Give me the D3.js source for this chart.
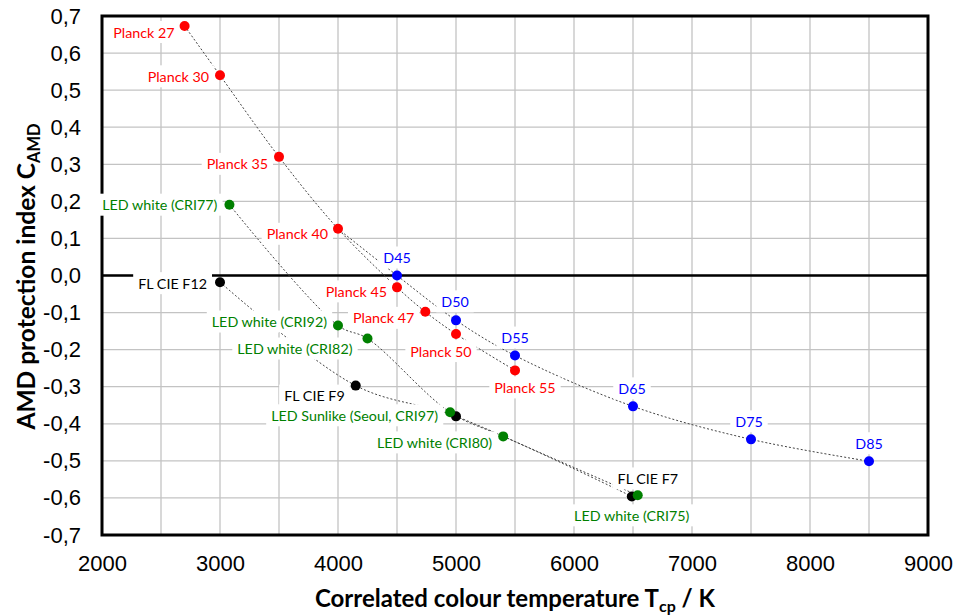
<!DOCTYPE html>
<html>
<head>
<meta charset="utf-8">
<script src="https://cdn.jsdelivr.net/npm/d3@7"></script>
<style>
  body { margin: 0; background: #fff; }
  svg { display: block; }
</style>
</head>
<body>
<svg id="chart" width="956" height="616"></svg>
<script>
// values: [name, Tcp in K, C_AMD]
const planck = [
  ["Planck 27", 2700, 0.673],
  ["Planck 30", 3000, 0.540],
  ["Planck 35", 3500, 0.320],
  ["Planck 40", 4000, 0.126],
  ["Planck 45", 4500, -0.032],
  ["Planck 47", 4740, -0.098],
  ["Planck 50", 5000, -0.158],
  ["Planck 55", 5500, -0.256]
];
const daylight = [
  ["D45", 4500, 0.000],
  ["D50", 5000, -0.121],
  ["D55", 5500, -0.216],
  ["D65", 6500, -0.353],
  ["D75", 7500, -0.442],
  ["D85", 8500, -0.501]
];
const fluorescent = [
  ["FL CIE F12", 3000, -0.018],
  ["FL CIE F9", 4150, -0.297],
  ["", 5000, -0.380],
  ["FL CIE F7", 6490, -0.596]
];
const led = [
  ["LED white (CRI77)", 3080, 0.191],
  ["LED white (CRI92)", 4000, -0.135],
  ["LED white (CRI82)", 4250, -0.170],
  ["LED Sunlike (Seoul, CRI97)", 4950, -0.369],
  ["LED white (CRI80)", 5400, -0.434],
  ["LED white (CRI75)", 6540, -0.593]
];

const xDomain = [2000, 9000];
const yDomain = [-0.7, 0.7];

// where each label sits relative to its dot: [anchor, dx, dy]
const labelPos = {
  "Planck 27": ["end", -10, 6], "Planck 30": ["end", -11, 1], "Planck 35": ["end", -11, 7],
  "Planck 40": ["end", -10, 5], "Planck 45": ["end", -10, 4], "Planck 47": ["end", -11, 6],
  "Planck 50": ["middle", -15, 17], "Planck 55": ["middle", 10, 17],
  "D45": ["middle", 0, -18], "D50": ["middle", -1, -19], "D55": ["middle", 0, -18],
  "D65": ["middle", -1, -18], "D75": ["middle", -2, -18], "D85": ["middle", 0, -18],
  "LED white (CRI77)": ["end", -12, 0], "LED white (CRI92)": ["end", -11, -4],
  "LED white (CRI82)": ["end", -15, 10], "LED Sunlike (Seoul, CRI97)": ["end", -12, 3],
  "LED white (CRI80)": ["end", -11, 6], "LED white (CRI75)": ["middle", -6, 20],
  "FL CIE F12": ["end", -13, 1], "FL CIE F9": ["end", -11, 10], "FL CIE F7": ["middle", 16, -18]
};

const W = 956, H = 616;
const margin = {top: 16, right: 28, bottom: 81, left: 102};
const iw = W - margin.left - margin.right;
const ih = H - margin.top - margin.bottom;

const svg = d3.select("#chart");
const g = svg.append("g").attr("transform", `translate(${margin.left},${margin.top})`);

const x = d3.scaleLinear().domain(xDomain).range([0, iw]);
const y = d3.scaleLinear().domain(yDomain).range([ih, 0]);

const loc = d3.formatLocale({decimal: ",", thousands: "", grouping: [3], currency: ["", ""], minus: "-"});
const fmtY = loc.format(".1f");

// grid
g.append("g").selectAll("line").data(x.ticks(14)).join("line")
  .attr("x1", d => x(d)).attr("x2", d => x(d)).attr("y1", 0).attr("y2", ih)
  .style("stroke", "#c3c3c3").style("stroke-width", 1.3);
g.append("g").selectAll("line").data(y.ticks(14)).join("line")
  .attr("x1", 0).attr("x2", iw).attr("y1", d => y(d)).attr("y2", d => y(d))
  .style("stroke", "#c3c3c3").style("stroke-width", 1.3);

// zero line
g.append("line").attr("x1", 0).attr("x2", iw).attr("y1", y(0)).attr("y2", y(0))
  .style("stroke", "#000").style("stroke-width", 2.5);

// axes
const xAxis = g.append("g").attr("transform", `translate(0,${ih})`)
  .call(d3.axisBottom(x).ticks(7).tickFormat(d3.format("d")).tickSize(0).tickPadding(20));
const yAxis = g.append("g")
  .call(d3.axisLeft(y).ticks(14).tickFormat(fmtY).tickSize(0).tickPadding(21));
[xAxis, yAxis].forEach(a => {
  a.select(".domain").remove();
  a.selectAll("text").style("font-family", "'Liberation Sans', Arial, sans-serif")
    .style("font-size", "22px").style("fill", "#000");
});

// frame
g.append("rect").attr("x", 0).attr("y", 0).attr("width", iw).attr("height", ih)
  .style("fill", "none").style("stroke", "#000").style("stroke-width", 3);

// dotted connectors
const line = d3.line().x(d => x(d[1])).y(d => y(d[2])).curve(d3.curveCatmullRom.alpha(0.5));
const connectors = [planck, [planck[3]].concat(daylight), fluorescent, led];
g.append("g").selectAll("path").data(connectors).join("path")
  .attr("d", line)
  .style("fill", "none").style("stroke", "#444").style("stroke-width", 1)
  .style("stroke-dasharray", "2,2");

// labels with white boxes
const series = [
  {data: planck, color: "#ff0000"},
  {data: daylight, color: "#0000ff"},
  {data: fluorescent, color: "#000000"},
  {data: led, color: "#008000"}
];
const labelLayer = g.append("g");
series.forEach(s => {
  s.data.filter(d => d[0] !== "").forEach(d => {
    const p = labelPos[d[0]];
    const lg = labelLayer.append("g");
    const t = lg.append("text")
      .attr("x", x(d[1]) + p[1]).attr("y", y(d[2]) + p[2])
      .attr("text-anchor", p[0]).attr("dominant-baseline", "central")
      .style("font-family", "Lato, sans-serif").style("font-size", "14.3px")
      .style("fill", s.color).text(d[0]);
    const b = t.node().getBBox();
    lg.insert("rect", "text").attr("x", b.x - 5).attr("y", y(d[2]) + p[2] - 11)
      .attr("width", b.width + 10).attr("height", 22).style("fill", "#fff");
  });
});

// dots
series.forEach(s => {
  g.append("g").selectAll("circle").data(s.data).join("circle")
    .attr("cx", d => x(d[1])).attr("cy", d => y(d[2])).attr("r", 5)
    .style("fill", s.color);
});

// axis titles
svg.append("text")
  .attr("x", margin.left + iw / 2).attr("y", 607).attr("text-anchor", "middle")
  .style("font-family", "Lato, sans-serif").style("font-weight", "bold").style("font-size", "24px")
  .call(t => {
    t.append("tspan").text("Correlated colour temperature T");
    t.append("tspan").attr("dy", 5).style("font-size", "16px").text("cp");
    t.append("tspan").attr("dy", -5).text(" / K");
  });
svg.append("text")
  .attr("transform", `translate(35,${margin.top + ih / 2 + 1}) rotate(-90)`).attr("text-anchor", "middle")
  .style("font-family", "Lato, sans-serif").style("font-weight", "bold").style("font-size", "24.5px")
  .call(t => {
    t.append("tspan").text("AMD protection index C");
    t.append("tspan").attr("dy", 5).style("font-size", "16.5px").text("AMD");
  });
</script>
</body>
</html>
